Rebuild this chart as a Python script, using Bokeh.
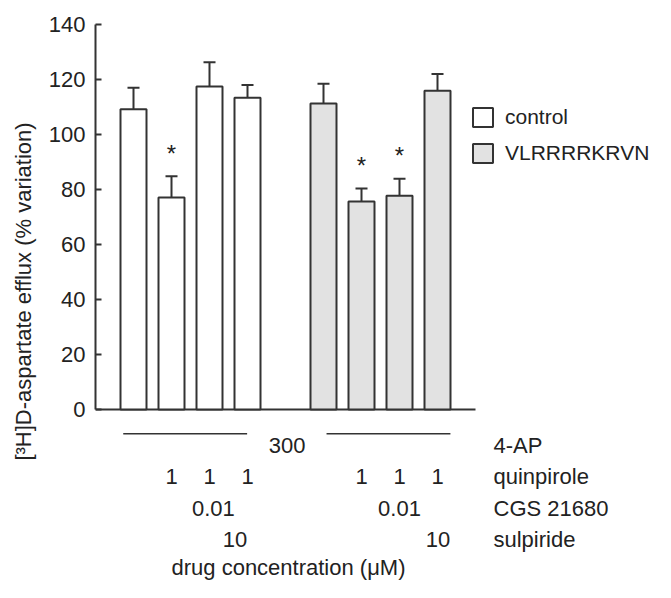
from bokeh.plotting import figure
from bokeh.models import (ColumnDataSource, Whisker, TeeHead, Legend, LegendItem,
                          LinearAxis, FixedTicker, Range1d)
from bokeh.core.properties import value
from bokeh.embed import file_html
from bokeh.resources import INLINE

# ---------------- data ----------------
ctrl_x = [1, 2, 3, 4]
ctrl_val = [109.2, 77.1, 117.5, 113.4]
ctrl_err = [7.8, 7.7, 8.8, 4.6]
ctrl_sig = [False, True, False, False]

pep_x = [6, 7, 8, 9]
pep_val = [111.3, 75.6, 77.7, 115.9]
pep_err = [7.2, 4.8, 6.2, 6.1]
pep_sig = [False, True, True, False]

series_names = ["control", "VLRRRRKRVN"]
y_ticks = [0, 20, 40, 60, 80, 100, 120, 140]

# drug concentration rows (text, x position)
ap_text = ["300"]
ap_x = [5.045]
ap_lines_x0 = [0.73, 6.08]
ap_lines_x1 = [3.99, 9.34]
quin_text = ["1", "1", "1", "1", "1", "1"]
quin_x = [2, 3, 4, 7, 8, 9]
cgs_text = ["0.01", "0.01"]
cgs_x = [3.1, 8.0]
sulp_text = ["10", "10"]
sulp_x = [3.67, 9.01]
row_names = ["4-AP", "quinpirole", "CGS 21680", "sulpiride"]

FONT = "Liberation Sans"
FS = "22px"
DARK = "#333333"
TXT = "#222222"
GREY = "#e2e2e2"

W, H = 655, 582
LEFT = 95
px_per_x = 38.0
px_per_y = 2.75
zero_y = 409.0  # canvas y of value 0


def v_of(py):
    return (zero_y - py) / px_per_y


def u_of(px):
    return (px - LEFT) / px_per_x


p = figure(width=W, height=H, output_backend="svg", toolbar_location=None,
           x_axis_type=None, y_axis_type=None,
           min_border_left=LEFT, min_border_right=0, min_border_top=0, min_border_bottom=0,
           x_range=Range1d(0, (W - LEFT) / px_per_x),
           y_range=Range1d(v_of(H), v_of(0)))
p.outline_line_color = None
p.grid.visible = False
p.background_fill_color = "white"
p.border_fill_color = "white"

yaxis = LinearAxis(bounds=(0, 140), ticker=FixedTicker(ticks=y_ticks),
                   axis_label="[³H]D-aspartate efflux (% variation)")
yaxis.axis_line_width = 2
yaxis.axis_line_color = DARK
yaxis.major_tick_line_width = 2
yaxis.major_tick_line_color = DARK
yaxis.major_tick_in = 6
yaxis.major_tick_out = 0
yaxis.minor_tick_line_color = None
yaxis.major_label_standoff = 10
yaxis.major_label_text_font = FONT
yaxis.major_label_text_font_size = FS
yaxis.major_label_text_color = TXT
yaxis.axis_label_text_font = FONT
yaxis.axis_label_text_font_size = FS
yaxis.axis_label_text_font_style = "normal"
yaxis.axis_label_text_color = TXT
yaxis.axis_label_standoff = 10
p.add_layout(yaxis, "left")

# x baseline
p.segment(x0=[0], y0=[0], x1=[10], y1=[0], line_width=2, line_color=DARK)

bw = 26 / px_per_x
src_c = ColumnDataSource(dict(x=ctrl_x, top=ctrl_val,
                              upper=[v + e for v, e in zip(ctrl_val, ctrl_err)]))
src_p = ColumnDataSource(dict(x=pep_x, top=pep_val,
                              upper=[v + e for v, e in zip(pep_val, pep_err)]))

for src in (src_c, src_p):
    p.add_layout(Whisker(source=src, base="x", upper="upper", lower="top", dimension="height",
                         line_width=2, line_color=DARK, lower_head=None,
                         upper_head=TeeHead(size=12, line_width=2, line_color=DARK)))

r1 = p.vbar(x="x", top="top", width=bw, bottom=0, source=src_c,
            fill_color="white", line_color=DARK, line_width=2)
r2 = p.vbar(x="x", top="top", width=bw, bottom=0, source=src_p,
            fill_color=GREY, line_color=DARK, line_width=2)

# significance stars
sx = [x for x, s in zip(ctrl_x, ctrl_sig) if s] + [x for x, s in zip(pep_x, pep_sig) if s]
sy = [v + e for v, e, s in zip(ctrl_val, ctrl_err, ctrl_sig) if s] + \
     [v + e for v, e, s in zip(pep_val, pep_err, pep_sig) if s]
p.text(x=sx, y=sy, text=["*"] * len(sx), text_align="center", text_baseline="alphabetic",
       y_offset=-23, text_font=value(FONT), text_font_size="24px", text_color=TXT)

# legend
legend = Legend(items=[LegendItem(label=series_names[0], renderers=[r1]),
                       LegendItem(label=series_names[1], renderers=[r2])],
                location=(470 - LEFT, H - 165), orientation="vertical",
                glyph_width=25, glyph_height=24, label_standoff=10, spacing=12,
                padding=0, margin=0, border_line_color=None, background_fill_alpha=0,
                label_text_font=FONT, label_text_font_size="21px", label_text_color=TXT)
p.add_layout(legend)


# drug concentration table
def row(xs, texts, ys, align="center"):
    p.text(x=xs, y=ys, text=texts, text_align=align, text_baseline="alphabetic",
           text_font=value(FONT), text_font_size=FS, text_color=TXT)


y_ap, y_q, y_c, y_s = v_of(444.5), v_of(476.0), v_of(507.5), v_of(539.0)
y_line = v_of(433.3)
y_title = v_of(567.0)

p.segment(x0=ap_lines_x0, x1=ap_lines_x1, y0=[y_line] * 2, y1=[y_line] * 2,
          line_width=1.5, line_color=DARK)
row(ap_x, ap_text, [y_ap])
row(quin_x, quin_text, [y_q] * len(quin_x))
row(cgs_x, cgs_text, [y_c] * len(cgs_x))
row(sulp_x, sulp_text, [y_s] * len(sulp_x))
row([u_of(493)] * 4, row_names, [y_ap, y_q, y_c, y_s], align="left")
row([u_of(171)], ["drug concentration (μM)"], [y_title], align="left")

open("out.html", "w").write(file_html(p, INLINE))
